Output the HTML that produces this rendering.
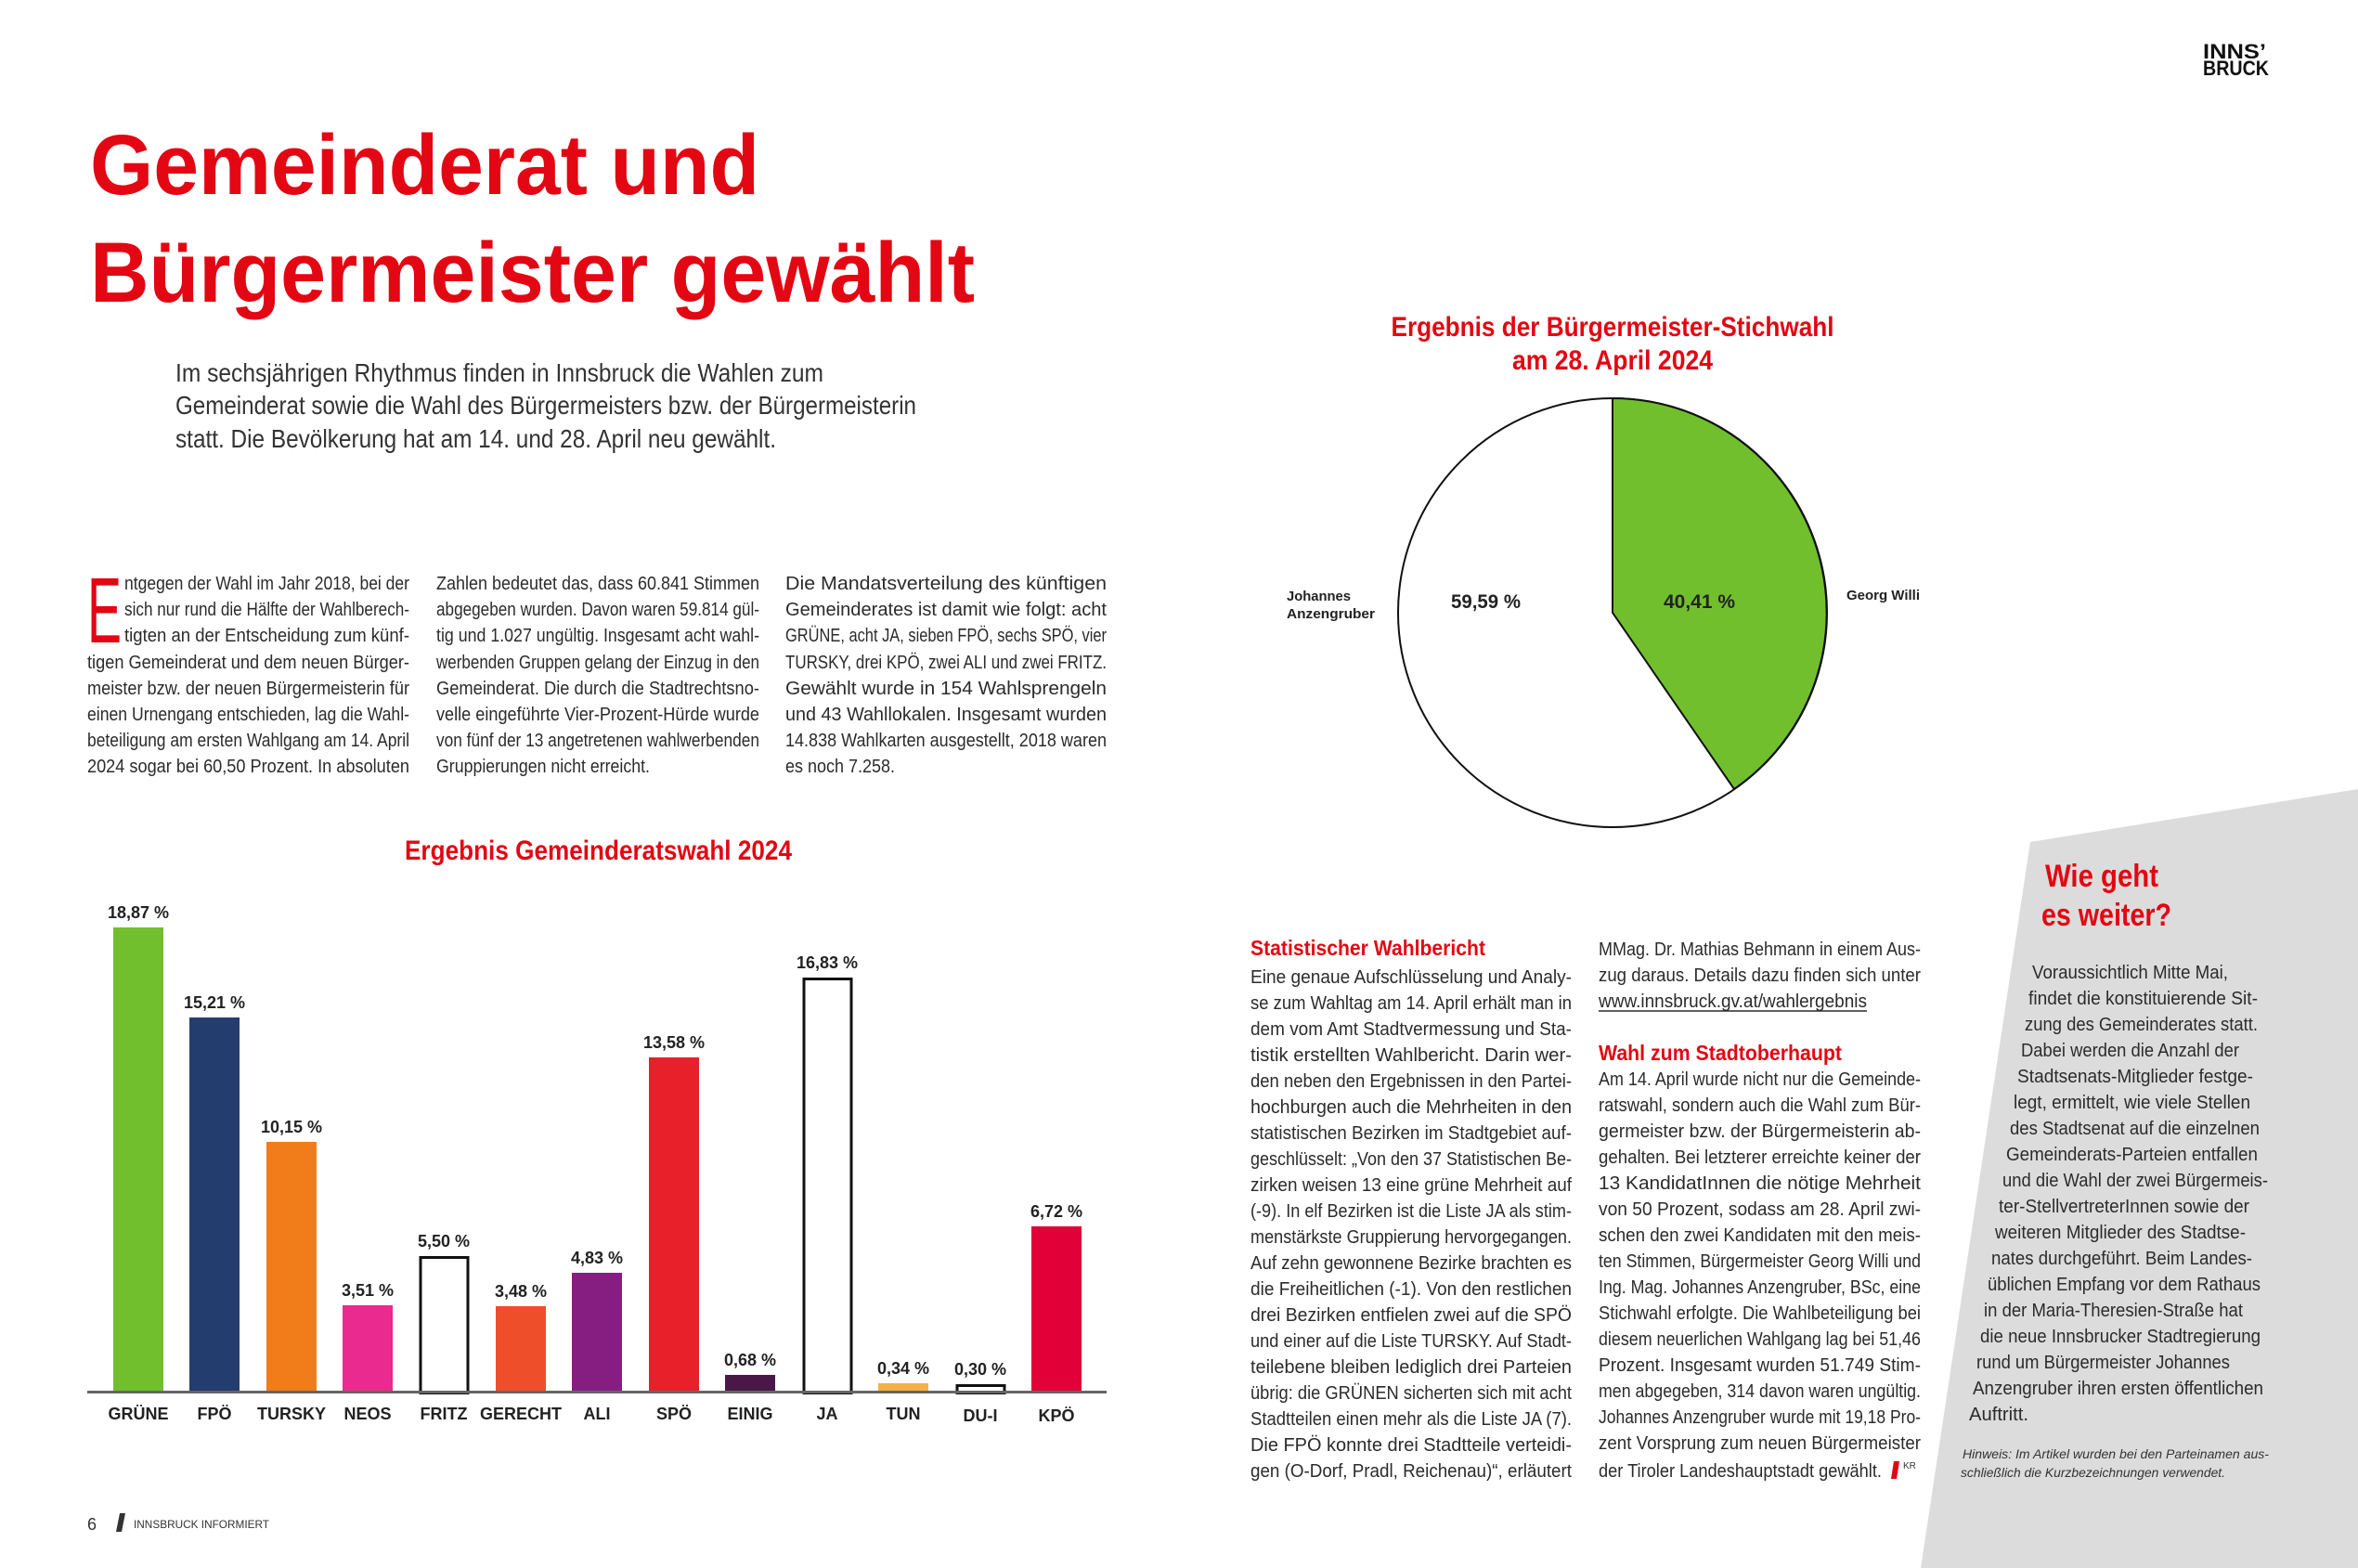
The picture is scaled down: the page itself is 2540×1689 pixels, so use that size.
<!DOCTYPE html>
<html><head><meta charset="utf-8"><style>
html,body{margin:0;padding:0;background:#fff}
svg{display:block}
text{font-family:"Liberation Sans",sans-serif}
.t{font-size:20px;fill:#2b2b2b}
.b{font-weight:bold}
.r{fill:#e30613}
.v{font-size:18px;font-weight:bold;fill:#222}
.c{font-size:18px;font-weight:bold;fill:#222}
</style></head><body>
<svg width="2540" height="1689" viewBox="0 0 2540 1689" xmlns="http://www.w3.org/2000/svg">
<rect width="2540" height="1689" fill="#fff"/>
<!-- gray panel -->
<polygon points="2187,907 2540,850 2540,1689 2069,1689" fill="#dcdcdc"/>
<!-- logo -->
<text x="2373" y="63" font-size="22" font-weight="bold" fill="#111" textLength="68" lengthAdjust="spacingAndGlyphs">INNS’</text>
<text x="2373" y="81" font-size="22" font-weight="bold" fill="#111" textLength="71" lengthAdjust="spacingAndGlyphs">BRUCK</text>
<!-- title -->
<text x="97" y="209" font-size="92" font-weight="bold" class="r" textLength="721" lengthAdjust="spacingAndGlyphs">Gemeinderat und</text>
<text x="97" y="325" font-size="92" font-weight="bold" class="r" textLength="953" lengthAdjust="spacingAndGlyphs">Bürgermeister gewählt</text>
<!-- intro -->
<g font-size="28" fill="#333">
<text x="189" y="411" textLength="698" lengthAdjust="spacingAndGlyphs">Im sechsjährigen Rhythmus finden in Innsbruck die Wahlen zum</text>
<text x="189" y="446" textLength="798" lengthAdjust="spacingAndGlyphs">Gemeinderat sowie die Wahl des Bürgermeisters bzw. der Bürgermeisterin</text>
<text x="189" y="482" textLength="647" lengthAdjust="spacingAndGlyphs">statt. Die Bevölkerung hat am 14. und 28. April neu gewählt.</text>
</g>
<!-- body columns -->
<text x="94" y="692" font-size="100" class="r" textLength="37" lengthAdjust="spacingAndGlyphs">E</text>
<g class="t">
<text x="134" y="635" textLength="307" lengthAdjust="spacingAndGlyphs">ntgegen der Wahl im Jahr 2018, bei der</text>
<text x="134" y="663" textLength="307" lengthAdjust="spacingAndGlyphs">sich nur rund die Hälfte der Wahlberech-</text>
<text x="134" y="691" textLength="307" lengthAdjust="spacingAndGlyphs">tigten an der Entscheidung zum künf-</text>
<text x="94" y="720" textLength="347" lengthAdjust="spacingAndGlyphs">tigen Gemeinderat und dem neuen Bürger-</text>
<text x="94" y="748" textLength="347" lengthAdjust="spacingAndGlyphs">meister bzw. der neuen Bürgermeisterin für</text>
<text x="94" y="776" textLength="347" lengthAdjust="spacingAndGlyphs">einen Urnengang entschieden, lag die Wahl-</text>
<text x="94" y="804" textLength="347" lengthAdjust="spacingAndGlyphs">beteiligung am ersten Wahlgang am 14. April</text>
<text x="94" y="832" textLength="347" lengthAdjust="spacingAndGlyphs">2024 sogar bei 60,50 Prozent. In absoluten</text>

<text x="470" y="635" textLength="348" lengthAdjust="spacingAndGlyphs">Zahlen bedeutet das, dass 60.841 Stimmen</text>
<text x="470" y="663" textLength="348" lengthAdjust="spacingAndGlyphs">abgegeben wurden. Davon waren 59.814 gül-</text>
<text x="470" y="691" textLength="348" lengthAdjust="spacingAndGlyphs">tig und 1.027 ungültig. Insgesamt acht wahl-</text>
<text x="470" y="720" textLength="348" lengthAdjust="spacingAndGlyphs">werbenden Gruppen gelang der Einzug in den</text>
<text x="470" y="748" textLength="348" lengthAdjust="spacingAndGlyphs">Gemeinderat. Die durch die Stadtrechtsno-</text>
<text x="470" y="776" textLength="348" lengthAdjust="spacingAndGlyphs">velle eingeführte Vier-Prozent-Hürde wurde</text>
<text x="470" y="804" textLength="348" lengthAdjust="spacingAndGlyphs">von fünf der 13 angetretenen wahlwerbenden</text>
<text x="470" y="832" textLength="230" lengthAdjust="spacingAndGlyphs">Gruppierungen nicht erreicht.</text>

<text x="846" y="635" textLength="346" lengthAdjust="spacingAndGlyphs">Die Mandatsverteilung des künftigen</text>
<text x="846" y="663" textLength="346" lengthAdjust="spacingAndGlyphs">Gemeinderates ist damit wie folgt: acht</text>
<text x="846" y="691" textLength="346" lengthAdjust="spacingAndGlyphs">GRÜNE, acht JA, sieben FPÖ, sechs SPÖ, vier</text>
<text x="846" y="720" textLength="346" lengthAdjust="spacingAndGlyphs">TURSKY, drei KPÖ, zwei ALI und zwei FRITZ.</text>
<text x="846" y="748" textLength="346" lengthAdjust="spacingAndGlyphs">Gewählt wurde in 154 Wahlsprengeln</text>
<text x="846" y="776" textLength="346" lengthAdjust="spacingAndGlyphs">und 43 Wahllokalen. Insgesamt wurden</text>
<text x="846" y="804" textLength="346" lengthAdjust="spacingAndGlyphs">14.838 Wahlkarten ausgestellt, 2018 waren</text>
<text x="846" y="832" textLength="118" lengthAdjust="spacingAndGlyphs">es noch 7.258.</text>
</g>
<!-- bar chart -->
<text x="436" y="926" font-size="30" font-weight="bold" class="r" textLength="417" lengthAdjust="spacingAndGlyphs">Ergebnis Gemeinderatswahl 2024</text>
<rect x="122" y="999" width="54" height="500" fill="#72bf2e"/>
<rect x="204" y="1096" width="54" height="403" fill="#233e6e"/>
<rect x="287" y="1230" width="54" height="269" fill="#f07c1a"/>
<rect x="369" y="1406" width="54" height="93" fill="#ea2a8f"/>
<rect x="453" y="1354.5" width="51" height="146" fill="#fff" stroke="#111" stroke-width="3"/>
<rect x="534" y="1407" width="54" height="92" fill="#ef4e2b"/>
<rect x="616" y="1371" width="54" height="128" fill="#861e82"/>
<rect x="699" y="1139" width="54" height="360" fill="#e8202a"/>
<rect x="781" y="1481" width="54" height="18" fill="#4a1848"/>
<rect x="866" y="1054.5" width="51" height="446" fill="#fff" stroke="#111" stroke-width="3"/>
<rect x="946" y="1490" width="54" height="9" fill="#f5b04a"/>
<rect x="1031" y="1492.5" width="51" height="8" fill="#fff" stroke="#111" stroke-width="3"/>
<rect x="1111" y="1321" width="54" height="178" fill="#e20038"/>
<line x1="94" y1="1499.5" x2="1192" y2="1499.5" stroke="#666" stroke-width="3"/>
<g class="v" text-anchor="middle">
<text x="149" y="989">18,87 %</text>
<text x="231" y="1086">15,21 %</text>
<text x="314" y="1220">10,15 %</text>
<text x="396" y="1396">3,51 %</text>
<text x="478" y="1343">5,50 %</text>
<text x="561" y="1397">3,48 %</text>
<text x="643" y="1361">4,83 %</text>
<text x="726" y="1129">13,58 %</text>
<text x="808" y="1471">0,68 %</text>
<text x="891" y="1043">16,83 %</text>
<text x="973" y="1480">0,34 %</text>
<text x="1056" y="1481">0,30 %</text>
<text x="1138" y="1311">6,72 %</text>
</g>
<g class="c" text-anchor="middle">
<text x="149" y="1529">GRÜNE</text>
<text x="231" y="1529">FPÖ</text>
<text x="314" y="1529">TURSKY</text>
<text x="396" y="1529">NEOS</text>
<text x="478" y="1529">FRITZ</text>
<text x="561" y="1529">GERECHT</text>
<text x="643" y="1529">ALI</text>
<text x="726" y="1529">SPÖ</text>
<text x="808" y="1529">EINIG</text>
<text x="891" y="1529">JA</text>
<text x="973" y="1529">TUN</text>
<text x="1056" y="1531">DU-I</text>
<text x="1138" y="1531">KPÖ</text>
</g>
<!-- footer -->
<text x="94" y="1648" font-size="18" fill="#333">6</text>
<polygon points="129,1630 135,1630 131,1650 125,1650" fill="#333"/>
<text x="144" y="1646" font-size="12" fill="#333" textLength="146" lengthAdjust="spacingAndGlyphs">INNSBRUCK INFORMIERT</text>
<!-- pie -->
<text x="1737" y="362" font-size="30" font-weight="bold" class="r" text-anchor="middle" textLength="477" lengthAdjust="spacingAndGlyphs">Ergebnis der Bürgermeister-Stichwahl</text>
<text x="1737" y="398" font-size="30" font-weight="bold" class="r" text-anchor="middle" textLength="216" lengthAdjust="spacingAndGlyphs">am 28. April 2024</text>
<circle cx="1737" cy="660" r="231" fill="#fff" stroke="#111" stroke-width="2"/>
<path d="M1737,660 L1737,429 A231,231 0 0 1 1868,850 Z" fill="#72bf2e" stroke="#111" stroke-width="2"/>
<text x="1563" y="655" font-size="21" font-weight="bold" fill="#222" textLength="75" lengthAdjust="spacingAndGlyphs">59,59 %</text>
<text x="1792" y="655" font-size="21" font-weight="bold" fill="#222" textLength="77" lengthAdjust="spacingAndGlyphs">40,41 %</text>
<text x="1386" y="647" font-size="15" font-weight="bold" fill="#222" textLength="69" lengthAdjust="spacingAndGlyphs">Johannes</text>
<text x="1386" y="666" font-size="15" font-weight="bold" fill="#222" textLength="95" lengthAdjust="spacingAndGlyphs">Anzengruber</text>
<text x="1989" y="646" font-size="15" font-weight="bold" fill="#222" textLength="79" lengthAdjust="spacingAndGlyphs">Georg Willi</text>
<!-- col A -->
<text x="1347" y="1029" font-size="23" font-weight="bold" class="r" textLength="253" lengthAdjust="spacingAndGlyphs">Statistischer Wahlbericht</text>
<g class="t">
<text x="1347" y="1059" textLength="346" lengthAdjust="spacingAndGlyphs">Eine genaue Aufschlüsselung und Analy-</text>
<text x="1347" y="1087" textLength="346" lengthAdjust="spacingAndGlyphs">se zum Wahltag am 14. April erhält man in</text>
<text x="1347" y="1115" textLength="346" lengthAdjust="spacingAndGlyphs">dem vom Amt Stadtvermessung und Sta-</text>
<text x="1347" y="1143" textLength="346" lengthAdjust="spacingAndGlyphs">tistik erstellten Wahlbericht. Darin wer-</text>
<text x="1347" y="1171" textLength="346" lengthAdjust="spacingAndGlyphs">den neben den Ergebnissen in den Partei-</text>
<text x="1347" y="1199" textLength="346" lengthAdjust="spacingAndGlyphs">hochburgen auch die Mehrheiten in den</text>
<text x="1347" y="1227" textLength="346" lengthAdjust="spacingAndGlyphs">statistischen Bezirken im Stadtgebiet auf-</text>
<text x="1347" y="1255" textLength="346" lengthAdjust="spacingAndGlyphs">geschlüsselt: „Von den 37 Statistischen Be-</text>
<text x="1347" y="1283" textLength="346" lengthAdjust="spacingAndGlyphs">zirken weisen 13 eine grüne Mehrheit auf</text>
<text x="1347" y="1311" textLength="346" lengthAdjust="spacingAndGlyphs">(-9). In elf Bezirken ist die Liste JA als stim-</text>
<text x="1347" y="1339" textLength="346" lengthAdjust="spacingAndGlyphs">menstärkste Gruppierung hervorgegangen.</text>
<text x="1347" y="1367" textLength="346" lengthAdjust="spacingAndGlyphs">Auf zehn gewonnene Bezirke brachten es</text>
<text x="1347" y="1395" textLength="346" lengthAdjust="spacingAndGlyphs">die Freiheitlichen (-1). Von den restlichen</text>
<text x="1347" y="1423" textLength="346" lengthAdjust="spacingAndGlyphs">drei Bezirken entfielen zwei auf die SPÖ</text>
<text x="1347" y="1451" textLength="346" lengthAdjust="spacingAndGlyphs">und einer auf die Liste TURSKY. Auf Stadt-</text>
<text x="1347" y="1479" textLength="346" lengthAdjust="spacingAndGlyphs">teilebene bleiben lediglich drei Parteien</text>
<text x="1347" y="1507" textLength="346" lengthAdjust="spacingAndGlyphs">übrig: die GRÜNEN sicherten sich mit acht</text>
<text x="1347" y="1535" textLength="346" lengthAdjust="spacingAndGlyphs">Stadtteilen einen mehr als die Liste JA (7).</text>
<text x="1347" y="1563" textLength="346" lengthAdjust="spacingAndGlyphs">Die FPÖ konnte drei Stadtteile verteidi-</text>
<text x="1347" y="1591" textLength="346" lengthAdjust="spacingAndGlyphs">gen (O-Dorf, Pradl, Reichenau)“, erläutert</text>
<!-- col B -->
<text x="1722" y="1029" textLength="347" lengthAdjust="spacingAndGlyphs">MMag. Dr. Mathias Behmann in einem Aus-</text>
<text x="1722" y="1057" textLength="347" lengthAdjust="spacingAndGlyphs">zug daraus. Details dazu finden sich unter</text>
<text x="1722" y="1085" textLength="289" lengthAdjust="spacingAndGlyphs">www.innsbruck.gv.at/wahlergebnis</text>
<text x="1722" y="1169" textLength="347" lengthAdjust="spacingAndGlyphs">Am 14. April wurde nicht nur die Gemeinde-</text>
<text x="1722" y="1197" textLength="347" lengthAdjust="spacingAndGlyphs">ratswahl, sondern auch die Wahl zum Bür-</text>
<text x="1722" y="1225" textLength="347" lengthAdjust="spacingAndGlyphs">germeister bzw. der Bürgermeisterin ab-</text>
<text x="1722" y="1253" textLength="347" lengthAdjust="spacingAndGlyphs">gehalten. Bei letzterer erreichte keiner der</text>
<text x="1722" y="1281" textLength="347" lengthAdjust="spacingAndGlyphs">13 KandidatInnen die nötige Mehrheit</text>
<text x="1722" y="1309" textLength="347" lengthAdjust="spacingAndGlyphs">von 50 Prozent, sodass am 28. April zwi-</text>
<text x="1722" y="1337" textLength="347" lengthAdjust="spacingAndGlyphs">schen den zwei Kandidaten mit den meis-</text>
<text x="1722" y="1365" textLength="347" lengthAdjust="spacingAndGlyphs">ten Stimmen, Bürgermeister Georg Willi und</text>
<text x="1722" y="1393" textLength="347" lengthAdjust="spacingAndGlyphs">Ing. Mag. Johannes Anzengruber, BSc, eine</text>
<text x="1722" y="1421" textLength="347" lengthAdjust="spacingAndGlyphs">Stichwahl erfolgte. Die Wahlbeteiligung bei</text>
<text x="1722" y="1449" textLength="347" lengthAdjust="spacingAndGlyphs">diesem neuerlichen Wahlgang lag bei 51,46</text>
<text x="1722" y="1477" textLength="347" lengthAdjust="spacingAndGlyphs">Prozent. Insgesamt wurden 51.749 Stim-</text>
<text x="1722" y="1505" textLength="347" lengthAdjust="spacingAndGlyphs">men abgegeben, 314 davon waren ungültig.</text>
<text x="1722" y="1533" textLength="347" lengthAdjust="spacingAndGlyphs">Johannes Anzengruber wurde mit 19,18 Pro-</text>
<text x="1722" y="1561" textLength="347" lengthAdjust="spacingAndGlyphs">zent Vorsprung zum neuen Bürgermeister</text>
<text x="1722" y="1591" textLength="305" lengthAdjust="spacingAndGlyphs">der Tiroler Landeshauptstadt gewählt.</text>
</g>
<line x1="1722" y1="1089" x2="2011" y2="1089" stroke="#2b2b2b" stroke-width="1.5"/>
<text x="1722" y="1142" font-size="23" font-weight="bold" class="r" textLength="262" lengthAdjust="spacingAndGlyphs">Wahl zum Stadtoberhaupt</text>
<polygon points="2037,1593 2043,1593 2046,1574 2040,1574" fill="#e30613"/>
<text x="2050" y="1582" font-size="10" fill="#333">KR</text>
<!-- panel -->
<text x="2203" y="955" font-size="34" font-weight="bold" class="r" textLength="122" lengthAdjust="spacingAndGlyphs">Wie geht</text>
<text x="2199" y="997" font-size="34" font-weight="bold" class="r" textLength="140" lengthAdjust="spacingAndGlyphs">es weiter?</text>
<g class="t">
<text x="2189" y="1054" textLength="211" lengthAdjust="spacingAndGlyphs">Voraussichtlich Mitte Mai,</text>
<text x="2185" y="1082" textLength="247" lengthAdjust="spacingAndGlyphs">findet die konstituierende Sit-</text>
<text x="2181" y="1110" textLength="251" lengthAdjust="spacingAndGlyphs">zung des Gemeinderates statt.</text>
<text x="2177" y="1138" textLength="235" lengthAdjust="spacingAndGlyphs">Dabei werden die Anzahl der</text>
<text x="2173" y="1166" textLength="254" lengthAdjust="spacingAndGlyphs">Stadtsenats-Mitglieder festge-</text>
<text x="2169" y="1194" textLength="255" lengthAdjust="spacingAndGlyphs">legt, ermittelt, wie viele Stellen</text>
<text x="2165" y="1222" textLength="269" lengthAdjust="spacingAndGlyphs">des Stadtsenat auf die einzelnen</text>
<text x="2161" y="1250" textLength="271" lengthAdjust="spacingAndGlyphs">Gemeinderats-Parteien entfallen</text>
<text x="2157" y="1278" textLength="286" lengthAdjust="spacingAndGlyphs">und die Wahl der zwei Bürgermeis-</text>
<text x="2153" y="1306" textLength="270" lengthAdjust="spacingAndGlyphs">ter-StellvertreterInnen sowie der</text>
<text x="2149" y="1334" textLength="270" lengthAdjust="spacingAndGlyphs">weiteren Mitglieder des Stadtse-</text>
<text x="2145" y="1362" textLength="281" lengthAdjust="spacingAndGlyphs">nates durchgeführt. Beim Landes-</text>
<text x="2141" y="1390" textLength="294" lengthAdjust="spacingAndGlyphs">üblichen Empfang vor dem Rathaus</text>
<text x="2137" y="1418" textLength="279" lengthAdjust="spacingAndGlyphs">in der Maria-Theresien-Straße hat</text>
<text x="2133" y="1446" textLength="302" lengthAdjust="spacingAndGlyphs">die neue Innsbrucker Stadtregierung</text>
<text x="2129" y="1474" textLength="273" lengthAdjust="spacingAndGlyphs">rund um Bürgermeister Johannes</text>
<text x="2125" y="1502" textLength="313" lengthAdjust="spacingAndGlyphs">Anzengruber ihren ersten öffentlichen</text>
<text x="2121" y="1530" textLength="64" lengthAdjust="spacingAndGlyphs">Auftritt.</text>
</g>
<text x="2114" y="1571" font-size="14" font-style="italic" fill="#333" textLength="330" lengthAdjust="spacingAndGlyphs">Hinweis: Im Artikel wurden bei den Parteinamen aus-</text>
<text x="2112" y="1591" font-size="14" font-style="italic" fill="#333" textLength="285" lengthAdjust="spacingAndGlyphs">schließlich die Kurzbezeichnungen verwendet.</text>
</svg>
</body></html>
